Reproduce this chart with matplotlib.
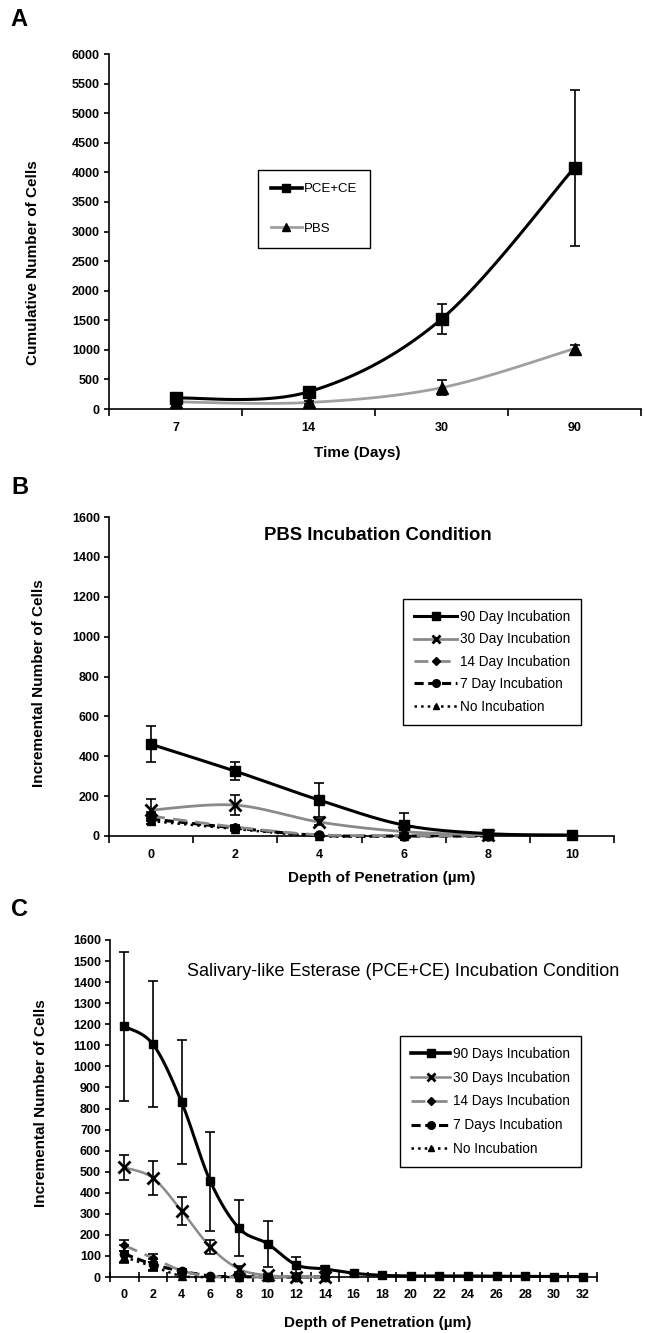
import numpy as np
import matplotlib
matplotlib.use("Agg")
import matplotlib.pyplot as plt
from matplotlib.lines import Line2D

plt.rcParams['font.family'] = ['Liberation Sans', 'DejaVu Sans']
plt.rcParams['axes.linewidth'] = 1.2

# ---- Panel A data (cumulative cells vs time) ----
days_a = ["7", "14", "30", "90"]
pce_ce = [185, 290, 1520, 4080]
pce_ce_err = [50, 40, 250, 1320]
pbs = [120, 110, 360, 1020]
pbs_err = [20, 20, 130, 70]

# ---- Panel B data (PBS incubation) ----
depth_b = ["0", "2", "4", "6", "8", "10"]
b_90 = [460, 325, 180, 55, 12, 5]
b_90_err = [90, 45, 85, 60, 5, 2]
b_30 = [130, 155, 70, 22, 5]
b_30_err = [55, 52, 15, 8, 2]
b_14 = [100, 45, 6, 3, 0]
b_14_err = [20, 10, 3, 2, 0]
b_7 = [85, 40, 3, 0, 0]
b_7_err = [25, 10, 2, 0, 0]
b_no = [75, 35, 0, 0, 0]
b_no_err = [15, 8, 0, 0, 0]

# ---- Panel C data (PCE+CE incubation) ----
depth_c = [str(v) for v in range(0, 34, 2)]
c_90 = [1190, 1105, 830, 455, 232, 158, 58, 38, 18, 8, 5, 5, 5, 4, 3, 2, 2]
c_90_err = [355, 300, 295, 235, 132, 110, 37, 12, 5, 2, 0, 0, 0, 0, 0, 0, 0]
c_30 = [520, 470, 314, 143, 38, 8, 2, 0]
c_30_err = [60, 80, 68, 35, 12, 5, 0, 0]
c_14 = [150, 90, 30, 3, 0, 0, 0, 0]
c_14_err = [28, 20, 10, 0, 0, 0, 0, 0]
c_7 = [110, 60, 28, 5, 2, 0, 0, 0]
c_7_err = [40, 25, 10, 2, 0, 0, 0, 0]
c_no = [95, 50, 5, 0, 0, 0, 0, 0]
c_no_err = [30, 20, 5, 0, 0, 0, 0, 0]

GRAY = "#8a8a8a"
LGRAY = "#a0a0a0"


def smooth(y, n=40):
    # Excel-like smoothed line (Catmull-Rom bezier through the points)
    y = np.asarray(y, float)
    x = np.arange(len(y), dtype=float)
    if len(y) < 3:
        return x, y
    px = np.concatenate([[x[0]], x, [x[-1]]])
    py = np.concatenate([[y[0]], y, [y[-1]]])
    t = np.linspace(0, 1, n)
    xs, ys = [], []
    for i in range(len(y) - 1):
        p0 = np.array([px[i], py[i]])
        p1 = np.array([px[i + 1], py[i + 1]])
        p2 = np.array([px[i + 2], py[i + 2]])
        p3 = np.array([px[i + 3], py[i + 3]])
        c1 = p1 + (p2 - p0) / 6
        c2 = p2 - (p3 - p1) / 6
        b = ((1 - t) ** 3)[:, None] * p1 + (3 * (1 - t) ** 2 * t)[:, None] * c1 \
            + (3 * (1 - t) * t ** 2)[:, None] * c2 + (t ** 3)[:, None] * p2
        xs.append(b[:, 0])
        ys.append(b[:, 1])
    return np.concatenate(xs), np.concatenate(ys)


def draw_series(ax, y, err, color, ls, lw, marker, ms, mew=1.0):
    sx, sy = smooth(y)
    ax.plot(sx, sy, color=color, ls=ls, lw=lw, zorder=3, clip_on=False)
    x = np.arange(len(y))
    ax.errorbar(x, y, yerr=err, fmt="none", ecolor="black", elinewidth=1.2,
                capsize=3.5, capthick=1.2, zorder=4, clip_on=False)
    ax.plot(x, y, ls="none", marker=marker, ms=ms, color="black", mew=mew,
            zorder=5, clip_on=False)


def style_axes(ax, cats, ymax, ystep, tickdir="out"):
    n = len(cats)
    ax.set_xlim(-0.5, n - 0.5)
    ax.set_ylim(0, ymax)
    ax.spines["top"].set_visible(False)
    ax.spines["right"].set_visible(False)
    ax.set_xticks(np.arange(n))
    ax.set_xticklabels(cats, fontweight="bold", fontsize=9)
    ax.set_xticks(np.arange(n + 1) - 0.5, minor=True)
    ax.tick_params(axis="x", which="major", length=0, pad=9)
    ax.tick_params(axis="x", which="minor", length=5 if tickdir == "out" else 7,
                   width=1.2, direction=tickdir)
    ax.set_yticks(np.arange(0, ymax + 1, ystep))
    ax.tick_params(axis="y", length=3.5, width=1.2, pad=3, labelsize=9)
    for lb in ax.get_yticklabels():
        lb.set_fontweight("bold")


def make_legend(ax, handles, labels, x0, y0, **kw):
    leg = ax.legend(handles, labels, loc="upper left",
                    bbox_to_anchor=(x0 / W, 1 - y0 / H), bbox_transform=fig.transFigure,
                    borderaxespad=0, fancybox=False, framealpha=1, edgecolor="black", **kw)
    leg.get_frame().set_linewidth(1.0)
    return leg


fig = plt.figure(figsize=(6.45, 13.33), dpi=100)
W, H = 645.0, 1333.0


def axes_px(x0, y0, x1, y1):
    return fig.add_axes([x0 / W, 1 - y1 / H, (x1 - x0) / W, (y1 - y0) / H])


# ---------------- Panel A ----------------
axA = axes_px(109, 54, 641, 409)
draw_series(axA, pce_ce, pce_ce_err, "black", "-", 2.2, "s", 8.5)
draw_series(axA, pbs, pbs_err, LGRAY, "-", 2.0, "^", 8)
style_axes(axA, days_a, 6000, 500)
hA = [Line2D([], [], color="black", lw=2.6, marker="s", ms=6, mfc="black"),
      Line2D([], [], color=LGRAY, lw=2.0, marker="^", ms=6, mfc="black", mec="black")]
make_legend(axA, hA, ["PCE+CE", "PBS"], 258, 170, fontsize=9.5, labelspacing=2.05,
            handlelength=2.3, handletextpad=0.15, borderpad=1.0)
fig.text(19 / W, 1 - 20 / H, "A", fontsize=17, fontweight="bold", ha="center", va="center")
fig.text(33 / W, 1 - 263 / H, "Cumulative Number of Cells", rotation=90, fontsize=11,
         fontweight="bold", ha="center", va="center")
fig.text(357 / W, 1 - 453 / H, "Time (Days)", fontsize=11, fontweight="bold",
         ha="center", va="center")

# ---------------- Panel B ----------------
axB = axes_px(109, 517, 614, 836)
draw_series(axB, b_no, b_no_err, "black", ":", 1.8, "^", 5.5)
draw_series(axB, b_7, b_7_err, "black", (0, (3, 1.5)), 2.2, "o", 6.5)
draw_series(axB, b_14, b_14_err, GRAY, (0, (5, 3)), 2.0, "D", 4.5)
draw_series(axB, b_30, b_30_err, GRAY, "-", 2.0, "x", 8, mew=2)
draw_series(axB, b_90, b_90_err, "black", "-", 2.2, "s", 6.5)
style_axes(axB, depth_b, 1600, 200)
labB = ["90 Day Incubation", "30 Day Incubation", "14 Day Incubation",
        "7 Day Incubation", "No Incubation"]
hB = [Line2D([], [], color="black", lw=2.2, marker="s", ms=5.5),
      Line2D([], [], color=GRAY, lw=2.0, marker="x", ms=6, mew=2, mec="black"),
      Line2D([], [], color=GRAY, lw=2.0, ls=(0, (5, 3)), marker="D", ms=4, mec="black", mfc="black"),
      Line2D([], [], color="black", lw=2.2, ls=(0, (3, 1.5)), marker="o", ms=5.5),
      Line2D([], [], color="black", lw=1.8, ls=":", marker="^", ms=5)]
make_legend(axB, hB, labB, 403, 599, fontsize=9.8, labelspacing=0.62,
            handlelength=3.2, handletextpad=0.2, borderpad=0.8)
fig.text(378 / W, 1 - 535 / H, "PBS Incubation Condition", fontsize=13.3,
         fontweight="bold", ha="center", va="center")
fig.text(20 / W, 1 - 487 / H, "B", fontsize=17, fontweight="bold", ha="center", va="center")
fig.text(39 / W, 1 - 683 / H, "Incremental Number of Cells", rotation=90, fontsize=11,
         fontweight="bold", ha="center", va="center")
fig.text(382 / W, 1 - 878 / H, "Depth of Penetration (\u00b5m)", fontsize=11,
         fontweight="bold", ha="center", va="center")

# ---------------- Panel C ----------------
axC = axes_px(110, 940, 597, 1277)
draw_series(axC, c_no, c_no_err, "black", ":", 1.8, "^", 5.5)
draw_series(axC, c_7, c_7_err, "black", (0, (3, 1.5)), 2.2, "o", 6)
draw_series(axC, c_14, c_14_err, GRAY, (0, (5, 3)), 2.0, "D", 4.5)
draw_series(axC, c_30, c_30_err, GRAY, "-", 1.8, "x", 8, mew=2)
draw_series(axC, c_90, c_90_err, "black", "-", 2.2, "s", 6)
style_axes(axC, depth_c, 1600, 100, tickdir="inout")
labC = ["90 Days Incubation", "30 Days Incubation", "14 Days Incubation",
        "7 Days Incubation", "No Incubation"]
hC = [Line2D([], [], color="black", lw=2.6, marker="s", ms=5.5),
      Line2D([], [], color=GRAY, lw=1.8, marker="x", ms=6, mew=2, mec="black"),
      Line2D([], [], color=GRAY, lw=2.0, ls=(0, (5, 3)), marker="D", ms=4, mec="black", mfc="black"),
      Line2D([], [], color="black", lw=2.2, ls=(0, (3, 1.5)), marker="o", ms=5.5),
      Line2D([], [], color="black", lw=1.8, ls=":", marker="^", ms=5)]
make_legend(axC, hC, labC, 400, 1036, fontsize=9.8, labelspacing=0.72,
            handlelength=2.9, handletextpad=0.2, borderpad=0.8)
fig.text(403 / W, 1 - 972 / H, "Salivary-like Esterase (PCE+CE) Incubation Condition",
         fontsize=13, ha="center", va="center")
fig.text(20 / W, 1 - 910 / H, "C", fontsize=17, fontweight="bold", ha="center", va="center")
fig.text(41 / W, 1 - 1103 / H, "Incremental Number of Cells", rotation=90, fontsize=11,
         fontweight="bold", ha="center", va="center")
fig.text(378 / W, 1 - 1323 / H, "Depth of Penetration (\u00b5m)", fontsize=11,
         fontweight="bold", ha="center", va="center")

fig.savefig("out.png", dpi=100)
